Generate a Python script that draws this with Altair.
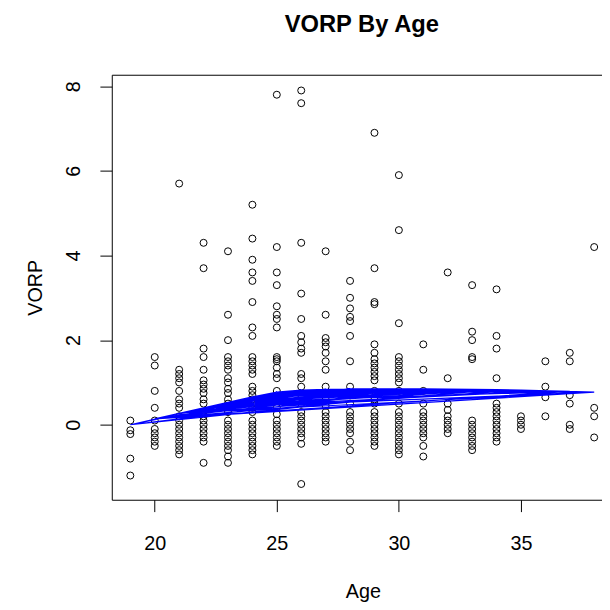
import altair as alt
import pandas as pd

# ---- data ----
AGES = list(range(19, 39))

vorp_19 = [0.1, -0.13, -0.22, -0.8, -1.2]
vorp_20 = [1.6, 1.4, 0.8, 0.4, 0.1, -0.1, -0.2, -0.3, -0.4, -0.5]
vorp_21 = [5.7, 1.3, 1.2, 1.1, 1.0, 0.8, 0.6, 0.5, 0.4, 0.2, 0.1, 0.0, -0.1, -0.2, -0.3, -0.4, -0.5, -0.6, -0.7]
vorp_22 = [4.3, 3.7, 1.8, 1.6, 1.3, 1.05, 0.95, 0.85, 0.75, 0.6, 0.5, 0.3, 0.2, 0.1, 0.0, -0.1, -0.2, -0.3, -0.4, -0.9]
vorp_23 = [4.1, 2.6, 2.0, 1.6, 1.5, 1.4, 1.3, 1.1, 1.0, 0.85, 0.75, 0.6, 0.5, 0.3, 0.1, 0.0, -0.1, -0.2, -0.3, -0.4, -0.5, -0.6, -0.75, -0.9]
vorp_24 = [5.2, 4.4, 3.9, 3.6, 3.4, 2.9, 2.3, 2.1, 1.6, 1.5, 1.4, 1.3, 1.2, 0.9, 0.8, 0.7, 0.6, 0.5, 0.4, 0.3, 0.1, 0.0, -0.1, -0.2, -0.3, -0.4, -0.5, -0.6, -0.7]
vorp_25 = [7.8, 4.2, 3.6, 3.3, 2.8, 2.6, 2.5, 2.3, 1.6, 1.55, 1.5, 1.35, 1.2, 1.1, 0.8, 0.6, 0.4, 0.25, 0.1, 0.0, -0.1, -0.2, -0.3, -0.4, -0.5]
vorp_26 = [7.9, 7.6, 4.3, 3.1, 2.5, 2.1, 1.95, 1.8, 1.7, 1.2, 1.1, 0.9, 0.7, 0.5, 0.3, 0.2, 0.1, 0.0, -0.1, -0.2, -0.3, -0.45, -1.4]
vorp_27 = [4.1, 2.6, 2.05, 1.95, 1.85, 1.7, 1.5, 1.3, 0.9, 0.6, 0.45, 0.3, 0.2, 0.1, 0.0, -0.1, -0.2, -0.3, -0.4]
vorp_28 = [3.4, 3.0, 2.75, 2.55, 2.45, 2.1, 1.5, 0.9, 0.7, 0.5, 0.3, 0.2, 0.1, 0.0, -0.1, -0.2, -0.4, -0.6]
vorp_29 = [6.9, 3.7, 2.9, 2.85, 1.9, 1.7, 1.55, 1.45, 1.35, 1.25, 1.15, 1.05, 0.8, 0.6, 0.5, 0.3, 0.2, 0.1, 0.0, -0.1, -0.2, -0.3, -0.4, -0.5]
vorp_30 = [5.9, 4.6, 2.4, 1.6, 1.5, 1.4, 1.3, 1.2, 1.1, 1.0, 0.8, 0.5, 0.3, 0.2, 0.1, 0.0, -0.1, -0.2, -0.3, -0.4, -0.5, -0.6, -0.7]
vorp_31 = [1.9, 1.3, 0.8, 0.5, 0.3, 0.2, 0.1, 0.0, -0.1, -0.2, -0.3, -0.5, -0.75]
vorp_32 = [3.6, 1.1, 0.5, 0.35, 0.2, 0.1, 0.0, -0.1, -0.2]
vorp_33 = [3.3, 2.2, 2.0, 1.6, 1.55, 0.1, 0.0, -0.1, -0.2, -0.3, -0.4, -0.5, -0.6]
vorp_34 = [3.2, 2.1, 1.8, 1.1, 0.5, 0.4, 0.3, 0.2, 0.1, 0.0, -0.1, -0.2, -0.3, -0.4]
vorp_35 = [0.2, 0.1, 0.0, -0.1]
vorp_36 = [1.5, 0.9, 0.65, 0.2]
vorp_37 = [1.7, 1.5, 0.7, 0.5, 0.0, -0.1]
vorp_38 = [4.2, 0.4, 0.2, -0.3]

# fitted VORP per age (vertices of the blue line)
FIT = [0.0, 0.14, 0.27, 0.40, 0.53, 0.66, 0.77, 0.82, 0.84, 0.85,
       0.85, 0.85, 0.85, 0.84, 0.84, 0.83, 0.82, 0.80, 0.79, 0.77]

VORP_LISTS = [vorp_19, vorp_20, vorp_21, vorp_22, vorp_23, vorp_24, vorp_25,
              vorp_26, vorp_27, vorp_28, vorp_29, vorp_30, vorp_31, vorp_32,
              vorp_33, vorp_34, vorp_35, vorp_36, vorp_37, vorp_38]

rows = []
for i, (age, fit, vals) in enumerate(zip(AGES, FIT, VORP_LISTS)):
    for v in vals:
        # the blue line joins the fitted values in unsorted (row) order;
        # rows are taken in VORP order, ties visited with an age stride
        rows.append({"age": age, "vorp": v, "fit": fit, "tie": (i * 7) % 20})
df = pd.DataFrame(rows)
df = df.sort_values(["vorp", "tie"]).reset_index(drop=True)
df["seq"] = range(len(df))

FONT = "Liberation Sans"

xscale = alt.Scale(domain=[18.24, 38.32], nice=False, zero=False)
yscale = alt.Scale(domain=[-1.772, 8.272], nice=False, zero=False)

yaxis = alt.Axis(values=[0, 2, 4, 6, 8], title="VORP", labelAngle=270,
                 labelPadding=17, titleAngle=270, titleBaseline="middle",
                 titleX=-77, titleY=215, domain=True)

points = alt.Chart(df).mark_point(
    shape="circle", filled=False, color="black", size=50, strokeWidth=1, opacity=1
).encode(
    x=alt.X("age:Q", scale=xscale,
            axis=alt.Axis(values=[20, 25, 30, 35], title="Age", labelPadding=22,
                          titleBaseline="top", titleY=83, titleX=254, domain=True)),
    y=alt.Y("vorp:Q", scale=yscale, axis=yaxis),
)

line = alt.Chart(df).mark_line(color="#0000FF", strokeWidth=1.2).encode(
    x=alt.X("age:Q", scale=xscale,
            axis=alt.Axis(orient="top", labels=False, ticks=False, domain=True, title="")),
    y=alt.Y("fit:Q", scale=yscale, axis=yaxis),
    order=alt.Order("seq:Q"),
)

chart = alt.layer(points, line).resolve_axis(x="independent").properties(
    width=496,
    height=430,
    autosize=alt.AutoSizeParams(type="none"),
    padding={"left": 105, "top": 64, "right": 0, "bottom": 106},
    title=alt.TitleParams("VORP By Age", fontSize=24, fontWeight="bold", font=FONT,
                          anchor="middle", dx=5, offset=19, baseline="alphabetic",
                          color="black"),
).configure_view(stroke="transparent").configure_axis(
    grid=False,
    domainColor="black",
    domainWidth=1,
    tickColor="black",
    tickWidth=1,
    tickSize=12,
    labelColor="black",
    titleColor="black",
    labelFont=FONT,
    titleFont=FONT,
    labelFontSize=20,
    titleFontSize=20,
    titleFontWeight="normal",
)

chart.save("out.html", embed_options={"renderer": "svg", "actions": False})
